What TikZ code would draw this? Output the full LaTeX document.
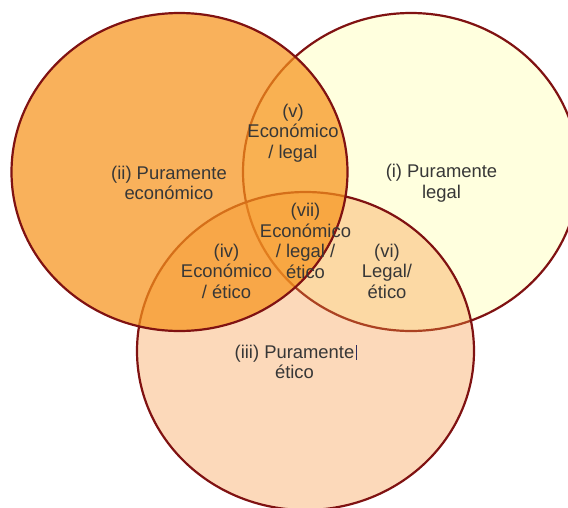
\documentclass[tikz,border=0pt]{standalone}
\usepackage{fontspec}
\setmainfont{Liberation Sans}
\definecolor{rim}{RGB}{128,18,18}
\definecolor{legalfill}{RGB}{255,255,222}
\definecolor{eticfill}{RGB}{249,152,64}
\definecolor{econfill}{RGB}{247,148,29}
\definecolor{txt}{RGB}{55,55,55}
\tikzset{
  rimline/.style={draw=rim, line width=2.2pt},
  lbl/.style={align=center, inner sep=0pt, text=txt, font=\fontsize{18.4}{20.5}\selectfont}
}
\begin{document}
\begin{tikzpicture}[x=1pt,y=-1pt]
\path[use as bounding box] (0,0) rectangle (568,507);
\clip (0,0) rectangle (568,507);
\fill[white] (0,0) rectangle (568,507);
% legal
\path[rimline, fill=legalfill] (411,172) ellipse [x radius=168, y radius=159];
% etico
\path[rimline, fill=eticfill, fill opacity=0.36] (305.5,351) ellipse [x radius=168.5, y radius=159];
% economico
\path[rimline, fill=econfill, fill opacity=0.72] (179.5,172) ellipse [x radius=168, y radius=159];
% labels
\node[lbl] (ii) at (169,183) {(ii) Puramente\\económico};
\node[lbl] (i) at (441.5,183) {(i) Puramente\\legal};
\node[lbl] (v) at (293,133) {(v)\\Económico\\/ legal};
\node[lbl] (vii) at (305.5,241) {(vii)\\Económico\\/ legal /\\ético};
\node[lbl] (iv) at (226.5,271) {(iv)\\Económico\\/ ético};
\node[lbl] (vi) at (387,271) {(vi)\\Legal/\\ético};
\node[lbl] (iii) at (294.5,362) {(iii) Puramente\\ético};
\coordinate (cur) at (356,345);
\draw[line width=0.8pt, draw=txt!80!blue] (cur) -- ++(0,15);
\end{tikzpicture}
\end{document}
